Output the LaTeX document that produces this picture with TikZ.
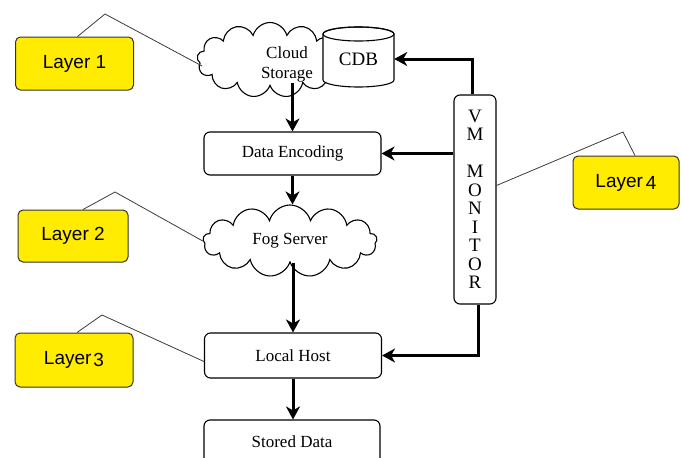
\documentclass[tikz,border=0pt]{standalone}
\usepackage{fontspec}
\setmainfont{Liberation Serif}
\newfontfamily\lsans{Liberation Sans}
\usetikzlibrary{shapes.symbols,arrows.meta}
\definecolor{layeryellow}{RGB}{255,236,0}
\definecolor{leadergray}{RGB}{60,60,60}
\tikzset{
  procbox/.style={draw, rounded corners=6pt, line width=1.1pt, minimum width=177pt, minimum height=43pt, font=\fontsize{17}{20}\selectfont, inner sep=0pt, fill=white},
  layerbox/.style={draw=black!80, fill=layeryellow, rounded corners=5pt, line width=1pt, font=\lsans\fontsize{19}{22}\selectfont, inner sep=0pt},
  flow/.style={line width=3pt, -{Stealth[length=13pt,width=14pt,inset=4pt]}},
  leaderline/.style={draw=leadergray, line width=0.8pt},
  cloudshape/.style={cloud, cloud puffs=13, cloud ignores aspect, draw, line width=1.1pt, fill=white, inner sep=0pt}
}
\begin{document}
\begin{tikzpicture}[x=1pt,y=-1pt]
\useasboundingbox (0,0) rectangle (681,458);
\clip (0,0) rectangle (681,458);
\fill[white] (0,0) rectangle (681,458);
% cloud storage
\node[cloudshape, minimum width=146pt, minimum height=75pt] (cs) at (270,60) {};
% cylinder CDB
\draw[line width=1.1pt, fill=white] (323,34) -- (323,80) arc[start angle=180,end angle=360,x radius=35.5pt,y radius=7pt] -- (394,34) arc[start angle=0,end angle=180,x radius=35.5pt,y radius=7pt] -- cycle;
\draw[line width=1.1pt] (358.5,34) ellipse [x radius=35.5pt, y radius=7pt];
\node[font=\fontsize{19}{22}\selectfont, minimum width=71pt, minimum height=40pt, inner sep=0pt] (cdb) at (358.5,59) {CDB};
\node[font=\fontsize{17}{20}\selectfont, align=center, inner sep=0pt] (cstext) at (287,64) {Cloud\\Storage};
% process boxes
\node[procbox] (de) at (292.5,153.5) {Data Encoding};
\node[cloudshape, minimum width=174pt, minimum height=72pt, font=\fontsize{17}{20}\selectfont] (fog) at (290,241) {Fog Server};
\node[procbox, minimum height=45pt] (lh) at (293,355.5) {Local Host};
\node[procbox, minimum width=176pt, minimum height=44pt, text depth=0pt] (sd) at (292,442) {Stored Data};
% VM monitor
\node[procbox, minimum width=42pt, minimum height=209pt, align=center, font=\fontsize{19}{18.5}\selectfont] (vm) at (475,199.5) {V\\M\\\mbox{}\\M\\O\\N\\I\\T\\O\\R};
% layer labels
\node[layerbox, minimum width=118pt, minimum height=53pt] (l1) at (74.5,63.5) {Layer 1};
\node[layerbox, minimum width=110pt, minimum height=52pt] (l2) at (73,236) {Layer 2};
\node[layerbox, minimum width=118pt, minimum height=54pt] (l3) at (74,360) {Layer\hspace{2pt}\raisebox{-2pt}{3}};
\node[layerbox, minimum width=106pt, minimum height=53pt] (l4) at (626,182.5) {Layer\hspace{3pt}\raisebox{-2pt}{4}};
% leader lines
\coordinate (k1) at (105,14);
\coordinate (k2) at (115,192);
\coordinate (k3) at (102,315);
\coordinate (k4) at (623,132);
\draw[leaderline] ([xshift=3pt]l1.north) -- (k1) -- ([xshift=5pt,yshift=-6pt]cs.west);
\draw[leaderline] ([xshift=10pt]l2.north) -- (k2) -- (fog.west);
\draw[leaderline] ([xshift=3pt]l3.north) -- (k3) -- ([yshift=-6pt]lh.west);
\draw[leaderline] ([yshift=14pt]vm.east) -- (k4) -- ([xshift=9pt]l4.north);
% flow arrows
\draw[flow] (de.north |- cs.south) ++(0,-4) -- (de.north);
\draw[flow] (de.south) -- (de.south |- fog.north);
\draw[flow] (lh.north |- fog.south) -- (lh.north);
\draw[flow] (lh.south) -- (lh.south |- sd.north);
\draw[flow] ([xshift=-3pt]vm.north) |- (cdb.east);
\draw[flow] (vm.west |- de.east) -- (de.east);
\draw[flow] ([xshift=3pt]vm.south) |- (lh.east);
\end{tikzpicture}
\end{document}
